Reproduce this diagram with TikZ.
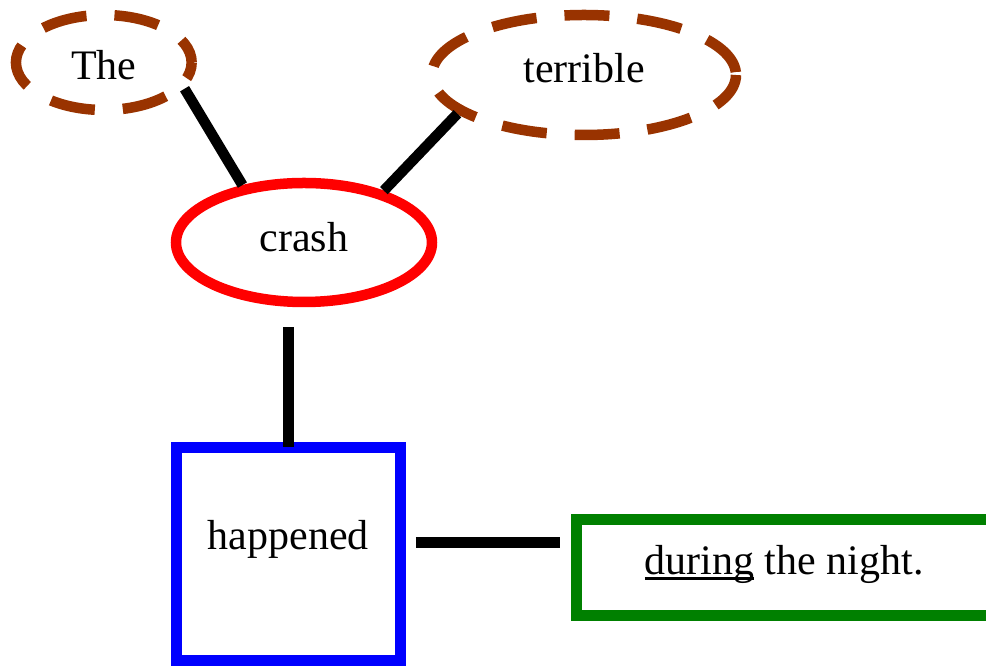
\documentclass[tikz,border=0pt]{standalone}
\usepackage{fontspec}
\setmainfont{Liberation Serif}
\usetikzlibrary{shapes.geometric}
\definecolor{brownc}{RGB}{153,51,0}
\definecolor{greenc}{RGB}{0,128,0}
\newcommand\myul[1]{\setbox0\hbox{#1}\rlap{\rule[-5pt]{\wd0}{3pt}}\box0\relax}
\begin{document}
\begin{tikzpicture}[x=1pt,y=1pt,
  every node/.style={inner sep=0pt, font=\fontsize{42}{50}\selectfont},
  lw/.style={line width=10.5pt},
  dashell/.style={ellipse, draw=brownc, lw, dash pattern=on 45pt off 28pt},
  conn/.style={draw=black, lw}]
\useasboundingbox (0,0) rectangle (986,666);
\node[dashell, dash phase=20pt, minimum width=175.7pt, minimum height=95pt,
      text height=35pt, text depth=0pt] (the) at (103.8,603.5) {The};
\node[dashell, dash phase=70pt, minimum width=304pt, minimum height=120pt,
      text height=30pt, text depth=14.6pt] (terrible) at (584,591) {terrible};
\node[ellipse, draw=red, lw, minimum width=256pt, minimum height=119pt,
      text height=30pt, text depth=11pt] (crash) at (304,423.5) {crash};
\node[rectangle, draw=blue, lw, minimum width=223.8pt, minimum height=213.4pt,
      text height=30pt, text depth=38pt] (happened) at (288.4,112) {happened};
\node[rectangle, draw=greenc, lw, minimum width=415.7pt, minimum height=96.4pt,
      text height=30pt, text depth=15pt] (night) at (784.2,98.5) {\myul{during} the night.};
\draw[conn] (the.-18) -- (crash.137);
\draw[conn] (terrible.197) -- (crash.33);
\draw[conn, shorten <=20pt, shorten >=-5pt] (happened.north |- crash.south) -- (happened.north);
\coordinate (hs) at ([yshift=11.3pt]happened.east);
\draw[conn, shorten <=10.3pt, shorten >=11pt] (hs) -- (hs -| night.west);
\end{tikzpicture}
\end{document}
